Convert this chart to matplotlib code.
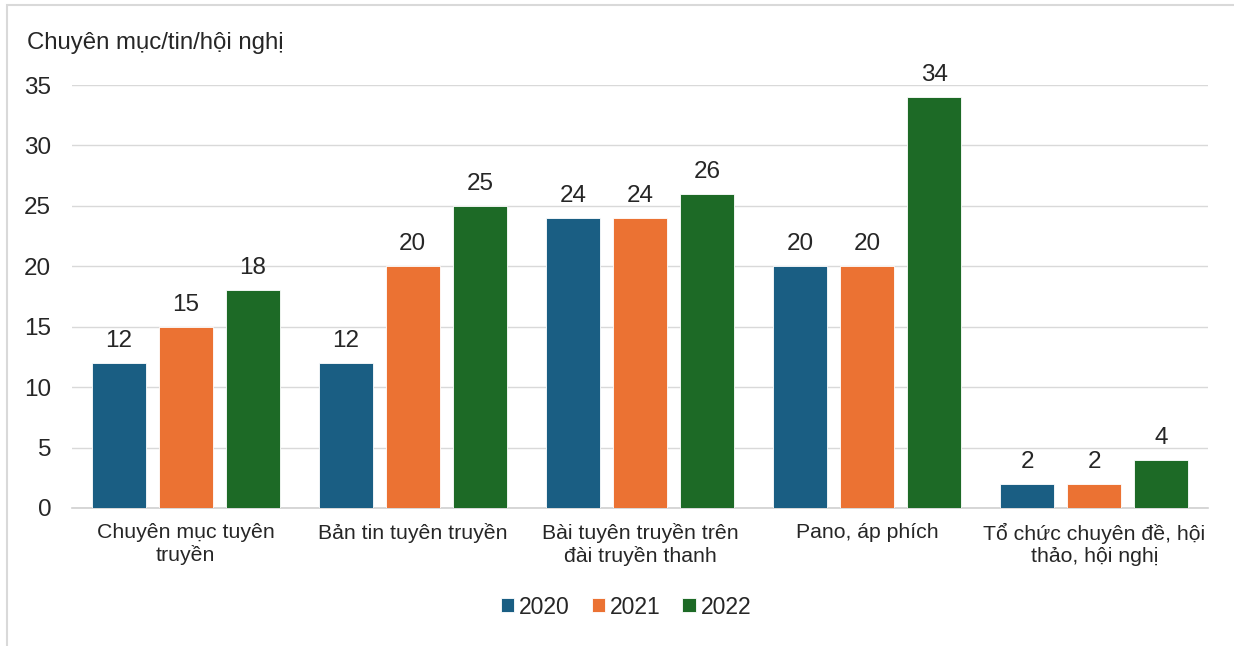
import matplotlib.pyplot as plt
import numpy as np
from matplotlib.patches import Rectangle

plt.rcParams['font.family'] = ['Liberation Sans', 'DejaVu Sans']

categories = ["Chuyên mục tuyên\ntruyền", "Bản tin tuyên truyền",
              "Bài tuyên truyền trên\nđài truyền thanh", "Pano, áp phích",
              "Tổ chức chuyên đề, hội\nthảo, hội nghị"]
years = ["2020", "2021", "2022"]
v2020 = [12, 12, 24, 20, 2]
v2021 = [15, 20, 24, 20, 2]
v2022 = [18, 25, 26, 34, 4]
colors = ["#1A5E83", "#EB7233", "#1D6A26"]
text_color = "#262626"

W, H = 1234, 646
fig = plt.figure(figsize=(W / 100, H / 100), dpi=100)
ax = fig.add_axes([72 / W, 1 - 508 / H, (1208 - 72) / W, (508 - 85) / H])

# outer frame of the chart (right and bottom edges run off the image)
fig.patches.append(Rectangle((7 / W, -0.1), 1.2, 1.1 - 5 / H, transform=fig.transFigure,
                             fill=False, edgecolor="#D9D9D9", linewidth=1.5))

x = np.arange(len(categories))
pitch = 0.295
width = 0.238
for i, (vals, yr, c) in enumerate(zip([v2020, v2021, v2022], years, colors)):
    bars = ax.bar(x + (i - 1) * pitch, vals, width, color=c, label=yr,
                  edgecolor="white", linewidth=0.6, zorder=3)
    for b, v in zip(bars, vals):
        ax.annotate(str(v), (b.get_x() + b.get_width() / 2, v), xytext=(0, 11.5),
                    textcoords="offset points", ha="center", va="baseline",
                    fontsize=17.5, color=text_color)

ax.set_xlim(-0.5, 4.5)
ax.set_ylim(0, 35)
ax.set_yticks(range(0, 36, 5))
ax.set_xticks(x)
ax.set_xticklabels(categories, fontsize=15.3, color=text_color, linespacing=1.2)
ax.tick_params(axis="y", labelsize=17.5, colors=text_color, length=0, pad=15)
ax.tick_params(axis="x", length=0, pad=10.5)
ax.grid(axis="y", color="#D9D9D9", linewidth=1.0, zorder=0)
for s in ["top", "right", "left"]:
    ax.spines[s].set_visible(False)
ax.spines["bottom"].set_color("#D0D0D0")
ax.spines["bottom"].set_linewidth(1.2)

fig.text(27 / W, 1 - 49 / H, "Chuyên mục/tin/hội nghị", fontsize=17.3,
         color=text_color, ha="left", va="baseline")

ax.legend(loc="center", bbox_to_anchor=(626 / W, 1 - 607 / H), bbox_transform=fig.transFigure,
          ncol=3, frameon=False, fontsize=16.5, handlelength=0.57, handleheight=0.57,
          handletextpad=0.22, columnspacing=0.96, labelcolor=text_color)

fig.savefig("out.png", dpi=100)
